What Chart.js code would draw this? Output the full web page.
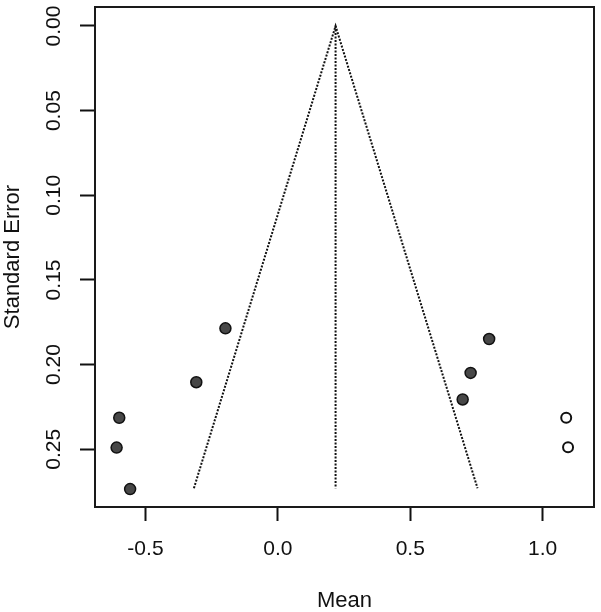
<!DOCTYPE html>
<html>
<head>
<meta charset="utf-8">
<script src="https://cdn.jsdelivr.net/npm/chart.js@4/dist/chart.umd.min.js"></script>
<style>
  html, body { margin: 0; padding: 0; background: #fff; }
  #funnel { display: block; }
</style>
</head>
<body>
<canvas id="funnel" width="601" height="612"></canvas>
<script>
// observed studies
const studyMean = [-0.198, -0.308, -0.599, -0.609, -0.558, 0.798, 0.728, 0.698];
const studySE = [0.1786, 0.2104, 0.2314, 0.249, 0.2735, 0.1849, 0.2049, 0.2206];
// imputed (trim and fill) studies
const filledMean = [1.089, 1.096];
const filledSE = [0.2314, 0.2488];
// funnel outline and summary line
const funnelMean = [-0.317, 0.218, 0.754];
const funnelSE = [0.273, 0, 0.273];
const centerMean = [0.218, 0.218];
const centerSE = [0, 0.273];
// axis ticks
const xTicks = [-0.5, 0.0, 0.5, 1.0];
const yTicks = [0.00, 0.05, 0.10, 0.15, 0.20, 0.25];

const FONT = '"Liberation Sans", Arial, Helvetica, sans-serif';
const INK = '#111';

function pts(xs, ys) {
  return xs.map((x, i) => ({ x: x, y: ys[i] }));
}

// box around plot + rotated y tick labels (R style)
const rAxes = {
  id: 'rAxes',
  afterDraw(chart) {
    const { ctx, chartArea, scales } = chart;
    ctx.save();
    ctx.strokeStyle = '#1a1a1a';
    ctx.lineWidth = 2;
    ctx.strokeRect(chartArea.left, chartArea.top,
      chartArea.right - chartArea.left, chartArea.bottom - chartArea.top);
    ctx.fillStyle = INK;
    ctx.font = '21px ' + FONT;
    ctx.textAlign = 'center';
    ctx.textBaseline = 'middle';
    for (const v of yTicks) {
      const py = scales.y.getPixelForValue(v);
      ctx.save();
      ctx.translate(54, py);
      ctx.rotate(-Math.PI / 2);
      ctx.fillText(v.toFixed(2), 0, 0);
      ctx.restore();
    }
    ctx.restore();
  }
};

const dotted = {
  type: 'line',
  showLine: true,
  borderColor: INK,
  borderWidth: 2,
  borderDash: [2, 1.5],
  pointRadius: 0,
  fill: false,
  tension: 0
};

new Chart(document.getElementById('funnel'), {
  type: 'scatter',
  data: {
    datasets: [
      Object.assign({ label: 'funnel', data: pts(funnelMean, funnelSE) }, dotted),
      Object.assign({ label: 'center', data: pts(centerMean, centerSE) }, dotted),
      {
        label: 'observed',
        data: pts(studyMean, studySE),
        pointRadius: 5.5,
        pointBackgroundColor: '#474747',
        pointBorderColor: INK,
        pointBorderWidth: 1.5
      },
      {
        label: 'filled',
        data: pts(filledMean, filledSE),
        pointRadius: 5,
        pointBackgroundColor: '#fff',
        pointBorderColor: INK,
        pointBorderWidth: 2
      }
    ]
  },
  options: {
    responsive: false,
    animation: false,
    layout: { padding: { top: 5, right: 5, left: 0, bottom: 0 } },
    plugins: { legend: { display: false }, tooltip: { enabled: false } },
    scales: {
      x: {
        type: 'linear',
        min: -0.6906,
        max: 1.194,
        afterBuildTicks: (s) => { s.ticks = xTicks.map((v) => ({ value: v })); },
        afterFit: (s) => { s.height = 105; },
        border: { display: false },
        grid: { drawOnChartArea: false, drawTicks: true, tickLength: 14, tickWidth: 2, tickColor: INK },
        ticks: {
          color: INK,
          padding: 16,
          maxRotation: 0,
          font: { family: FONT, size: 21 },
          callback: (v) => Number(v).toFixed(1)
        },
        title: {
          display: true,
          text: 'Mean',
          color: INK,
          font: { family: FONT, size: 22, lineHeight: 1 },
          padding: { top: 0, bottom: 0 }
        }
      },
      y: {
        type: 'linear',
        reverse: true,
        min: -0.0112,
        max: 0.2841,
        afterBuildTicks: (s) => { s.ticks = yTicks.map((v) => ({ value: v })); },
        afterFit: (s) => { s.width = 95; },
        border: { display: false },
        grid: { drawOnChartArea: false, drawTicks: true, tickLength: 15, tickWidth: 2, tickColor: INK },
        ticks: { display: false },
        title: {
          display: true,
          text: 'Standard Error',
          color: INK,
          font: { family: FONT, size: 22, lineHeight: 1 },
          padding: { top: 2, bottom: 0 }
        }
      }
    }
  },
  plugins: [rAxes]
});
</script>
</body>
</html>
